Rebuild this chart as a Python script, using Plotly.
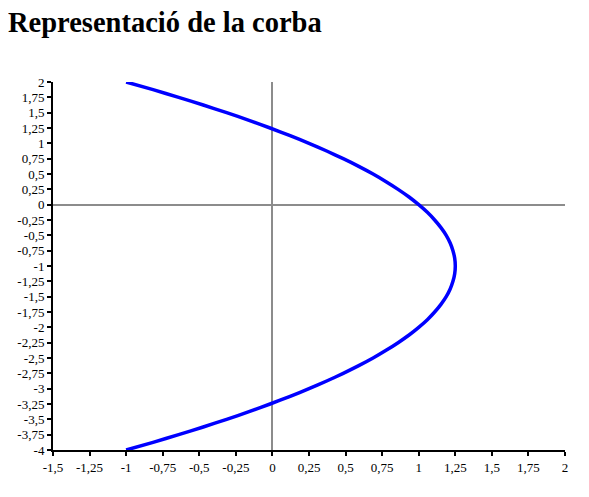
import plotly.graph_objects as go

# points (x, y)
curve_y = [2, 1.875, 1.75, 1.625, 1.5, 1.375, 1.25, 1.125, 1, 0.875, 0.75, 0.625, 0.5,
           0.375, 0.25, 0.125, 0, -0.125, -0.25, -0.375, -0.5, -0.625, -0.75, -0.875, -1,
           -1.125, -1.25, -1.375, -1.5, -1.625, -1.75, -1.875, -2, -2.125, -2.25, -2.375,
           -2.5, -2.625, -2.75, -2.875, -3, -3.125, -3.25, -3.375, -3.5, -3.625, -3.75,
           -3.875, -4]
curve_x = [-1, -0.816, -0.641, -0.473, -0.313, -0.160, -0.016, 0.121, 0.25, 0.371, 0.484,
           0.590, 0.688, 0.777, 0.859, 0.934, 1.0, 1.059, 1.109, 1.152, 1.188, 1.215, 1.234,
           1.246, 1.25, 1.246, 1.234, 1.215, 1.188, 1.152, 1.109, 1.059, 1.0, 0.934, 0.859,
           0.777, 0.688, 0.590, 0.484, 0.371, 0.25, 0.121, -0.016, -0.160, -0.313, -0.473,
           -0.641, -0.816, -1]

x_ticks = [-1.5, -1.25, -1, -0.75, -0.5, -0.25, 0, 0.25, 0.5, 0.75, 1, 1.25, 1.5, 1.75, 2]
y_ticks = [2, 1.75, 1.5, 1.25, 1, 0.75, 0.5, 0.25, 0, -0.25, -0.5, -0.75, -1, -1.25, -1.5,
           -1.75, -2, -2.25, -2.5, -2.75, -3, -3.25, -3.5, -3.75, -4]

BLUE = "#0000FF"
GRAY = "#8C8C8C"
FONT = "Liberation Serif, Times New Roman, serif"

fig = go.Figure(go.Scatter(
    x=curve_x, y=curve_y, mode="lines",
    line=dict(color=BLUE, width=3.5, shape="spline", smoothing=0.6),
    showlegend=False, hoverinfo="skip",
))

axis = dict(
    showgrid=False, zeroline=True, zerolinecolor=GRAY, zerolinewidth=2,
    showline=True, linecolor="black", linewidth=2,
    ticks="outside", ticklen=4, tickcolor="black", tickwidth=2,
    tickfont=dict(family=FONT, size=13, color="black"),
    tickmode="array", automargin=False,
)

# page body adds an 8px offset, so the figure is sized 8px smaller
fig.update_layout(
    width=581, height=489,
    plot_bgcolor="white", paper_bgcolor="white",
    font=dict(family=FONT, color="black"),
    separators=", ",
    margin=dict(l=45, r=24, t=74, b=47),
    title=dict(text="<b>Representació de la corba</b>", font=dict(family=FONT, size=28.5, color="black"),
               x=0, xref="container", xanchor="left",
               y=1 - 14 / 489, yref="container", yanchor="middle"),
    xaxis=dict(axis, range=[-1.5, 2], tickvals=x_ticks,
               ticktext=[f"{v:g}".replace(".", ",") for v in x_ticks]),
    yaxis=dict(axis, range=[-4, 2], tickvals=y_ticks,
               ticktext=[f"{v:g}".replace(".", ",") for v in y_ticks]),
)

fig.write_html("out.html")
